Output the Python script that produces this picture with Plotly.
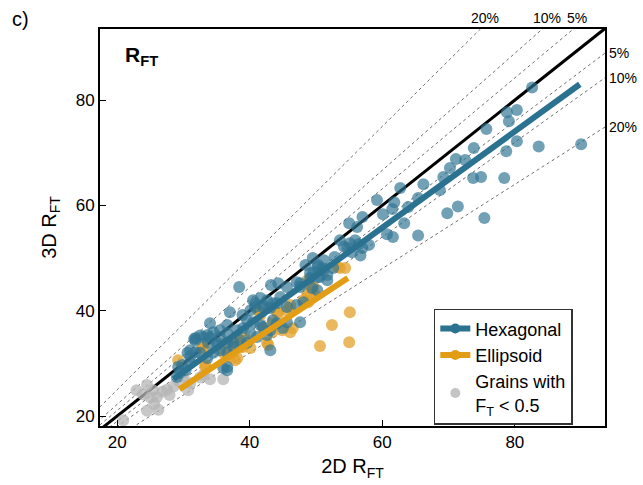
import plotly.graph_objects as go

# hexagonal grains (2D R_FT, 3D R_FT)
hex_2d = [82.6, 78.8, 80.3, 79.1, 75.7, 80.3, 83.6, 90.0, 78.7, 73.8, 71.1, 72.5, 70.2, 69.2, 73.7,
          74.9, 78.4, 66.2, 68.7, 62.7, 65.4, 63.9, 71.4, 69.8, 75.4,
          61.8, 59.2, 60.1, 61.5, 63.3, 65.4, 60.7, 61.6, 55.0, 57.0, 56.2, 53.6, 55.1, 55.9, 54.7,
          57.0, 56.7, 54.2, 55.4, 56.4, 58.0, 48.4, 50.2, 50.9, 51.7, 52.6, 49.1, 50.2, 47.6,
          50.3, 51.1, 49.6, 50.6, 51.7, 51.2, 52.8, 49.5,
          38.4, 43.2, 44.3, 45.6, 47.1, 47.6, 49.1, 49.4, 50.2,
          40.5, 41.6, 42.6, 43.5, 44.6, 40.8, 42.0, 40.1, 37.0, 38.9,
          39.6, 40.5, 41.6, 43.5, 45.6, 34.0, 35.5, 36.6, 31.8, 33.0, 42.6, 43.1, 37.5, 43.1, 36.6, 47.6,
          40.8, 42.0, 43.1, 44.1, 45.6, 47.1, 48.1, 31.6,
          33.6, 34.5, 35.5, 36.6, 38.1, 39.0, 33.7, 35.1, 36.6, 37.5, 38.6, 39.6,
          30.6, 31.0, 32.5, 33.6, 29.2, 29.8, 31.0, 36.6, 42.0, 44.1, 45.0, 41.1, 40.1,
          31.8, 32.5, 34.0, 35.1, 31.0, 31.8, 34.5, 35.5, 36.6, 29.5, 30.3, 29.0, 36.0]
hex_3d = [82.4, 77.7, 78.1, 76.0, 74.5, 72.2, 71.2, 71.6, 70.3, 70.9, 68.8, 68.6, 67.1, 65.4, 65.2,
          65.4, 65.2, 64.0, 62.9, 63.3, 61.4, 59.7, 59.8, 58.5, 57.6,
          60.6, 61.0, 58.3, 59.3, 56.6, 54.3, 54.5, 54.0, 56.6, 57.8, 55.9, 53.4, 52.8, 53.4, 51.9,
          51.9, 50.5, 52.2, 51.1, 52.6, 52.5, 48.7, 48.3, 48.1, 46.8, 48.1, 47.1, 46.4, 45.2,
          48.7, 47.7, 47.3, 46.4, 45.8, 49.6, 50.2, 50.0,
          44.5, 44.9, 45.2, 44.5, 45.4, 44.5, 46.2, 44.3, 43.9,
          42.0, 42.4, 42.0, 41.4, 42.6, 40.7, 40.7, 40.1, 39.7, 39.2,
          38.2, 37.8, 37.3, 38.2, 37.8, 37.6, 36.3, 37.3, 34.8, 35.0, 35.4, 36.3, 34.0, 32.5, 29.3, 37.8,
          41.4, 41.1, 40.5, 41.4, 40.7, 41.1, 41.6, 34.6,
          35.4, 35.9, 35.0, 35.7, 36.3, 36.7, 33.9, 33.5, 33.9, 33.1, 34.4, 33.9,
          32.0, 32.5, 32.0, 31.0, 29.3, 29.7, 30.1, 28.7, 36.9, 37.6, 36.7, 35.0, 35.7,
          34.4, 35.3, 34.9, 33.9, 31.2, 32.1, 32.0, 32.5, 32.0, 28.2, 28.7, 27.4, 29.1]

# ellipsoid grains
ell_2d = [55.1, 52.4, 50.6, 55.0, 53.2, 53.6, 54.4, 48.7, 49.6, 49.9, 48.8,
          41.6, 44.3, 45.6, 46.1, 48.1, 49.1, 46.5, 43.4, 39.3, 38.1, 38.6, 33.0, 42.8, 33.3,
          37.0, 37.8, 29.2, 32.8, 36.0, 37.5, 38.1, 39.0, 40.1, 36.6, 38.1, 42.6, 42.0, 43.4,
          44.9, 46.1, 41.3, 41.6, 44.1, 46.1, 33.3, 48.7, 49.1]
ell_3d = [39.7, 37.3, 33.3, 34.0, 48.3, 48.1, 48.1, 43.3, 44.5, 43.0, 41.6,
          39.7, 39.5, 40.1, 40.5, 42.0, 43.0, 36.7, 35.9, 34.8, 35.0, 33.1, 33.1, 33.5, 29.3,
          31.2, 30.6, 30.6, 32.9, 32.0, 32.1, 31.0, 33.1, 32.9, 33.9, 34.4, 33.9, 36.7, 37.6,
          36.3, 35.9, 40.1, 39.2, 39.7, 41.1, 29.7, 45.8, 44.9]

# grains with F_T < 0.5
low_2d = [20.9, 24.5, 25.6, 26.2, 26.0, 23.9, 22.9, 24.5, 25.4, 26.8, 25.0, 27.9, 28.5, 29.3,
          30.7, 31.0, 32.5, 34.0, 36.0, 33.0, 27.5, 30.0]
low_3d = [19.2, 21.0, 22.3, 21.2, 23.6, 24.1, 24.9, 25.9, 24.9, 24.6, 23.5, 24.0, 25.6, 26.6,
          24.9, 26.2, 27.3, 27.0, 27.0, 27.8, 25.0, 27.5]

# regression lines
hex_fit_2d = [28.5, 89.8]
hex_fit_3d = [27.0, 83.0]
ell_fit_2d = [29.4, 54.8]
ell_fit_3d = [25.1, 46.2]

pct = [5, 10, 20]
ref_2d = [0, 100]

TEAL = "#2b7291"
ORANGE = "#e29d14"
GRAY = "#b5b5b5"
FONT = "Liberation Sans, Arial, sans-serif"

fig = go.Figure()

for p in pct:
    f = 1 - p / 100
    fig.add_trace(go.Scatter(x=ref_2d, y=[v / f for v in ref_2d], mode="lines",
                             line=dict(color="#707070", width=1, dash="3px,3px"),
                             showlegend=False, hoverinfo="skip"))
    fig.add_trace(go.Scatter(x=ref_2d, y=[v * f for v in ref_2d], mode="lines",
                             line=dict(color="#707070", width=1, dash="3px,3px"),
                             showlegend=False, hoverinfo="skip"))

fig.add_trace(go.Scatter(x=ref_2d, y=ref_2d, mode="lines", line=dict(color="black", width=3),
                         showlegend=False))

fig.add_trace(go.Scatter(x=low_2d, y=low_3d, mode="markers", showlegend=False,
                         marker=dict(color=GRAY, size=12, opacity=0.75)))
fig.add_trace(go.Scatter(x=ell_2d, y=ell_3d, mode="markers", showlegend=False,
                         marker=dict(color="#e3a22a", size=12, opacity=0.75)))
fig.add_trace(go.Scatter(x=hex_2d, y=hex_3d, mode="markers", showlegend=False,
                         marker=dict(color="#2f7593", size=12, opacity=0.68)))

fig.add_trace(go.Scatter(x=ell_fit_2d, y=ell_fit_3d, mode="lines", showlegend=False,
                         line=dict(color=ORANGE, width=6)))
fig.add_trace(go.Scatter(x=hex_fit_2d, y=hex_fit_3d, mode="lines", showlegend=False,
                         line=dict(color=TEAL, width=6)))

# legend entries
fig.add_trace(go.Scatter(x=[None], y=[None], mode="lines+markers", name="Hexagonal",
                         line=dict(color=TEAL, width=6), marker=dict(color=TEAL, size=10)))
fig.add_trace(go.Scatter(x=[None], y=[None], mode="lines+markers", name="Ellipsoid",
                         line=dict(color=ORANGE, width=6), marker=dict(color=ORANGE, size=10)))
fig.add_trace(go.Scatter(x=[None], y=[None], mode="markers",
                         name="Grains with<br>F<sub>T</sub> < 0.5",
                         marker=dict(color="#c4c4c4", size=10)))

axis = dict(showline=True, linecolor="black", linewidth=2, mirror=True, showgrid=False,
            zeroline=False, ticks="inside", ticklen=6, tickwidth=1, tickcolor="black",
            tickvals=[20, 40, 60, 80], tickfont=dict(size=17, color="black"))

fig.update_layout(
    width=643, height=485,
    margin=dict(l=100, r=38, t=29, b=59),
    plot_bgcolor="white", paper_bgcolor="white",
    font=dict(family=FONT, color="black"),
    xaxis=dict(range=[17.4, 93.6], title=dict(text="2D R<sub>FT</sub>", font=dict(size=20),
                                              standoff=8), **axis),
    yaxis=dict(range=[18.1, 93.5], title=dict(text="3D R<sub>FT</sub>", font=dict(size=20),
                                              standoff=14), **axis),
    legend=dict(x=0.661, y=0.295, xanchor="left", yanchor="top", bgcolor="white",
                bordercolor="#333", borderwidth=1.5, font=dict(size=18), tracegroupgap=4,
                itemwidth=30),
)

fig.add_annotation(text="c)", xref="paper", yref="paper", x=-0.178, y=1.025, showarrow=False,
                   xanchor="left", yanchor="middle", font=dict(size=20))
fig.add_annotation(text="<b>R</b><sub><b>FT</b></sub>", xref="paper", yref="paper", x=0.045,
                   y=0.97, showarrow=False, xanchor="left", yanchor="top", font=dict(size=21))

for label, xpos in zip(["20%", "10%", "5%"], [75.5, 84.9, 89.4]):
    fig.add_annotation(text=label, x=xpos, xref="x", y=1, yref="paper", yanchor="bottom",
                       showarrow=False, font=dict(size=14), yshift=1)
for p in pct:
    fig.add_annotation(text=f"{p}%", x=1, xref="paper", y=93.6 * (1 - p / 100), yref="y",
                       xanchor="left", showarrow=False, font=dict(size=14), xshift=2)

fig.write_html("out.html", config={"displayModeBar": False},
               post_script="document.body.style.margin='0';")
